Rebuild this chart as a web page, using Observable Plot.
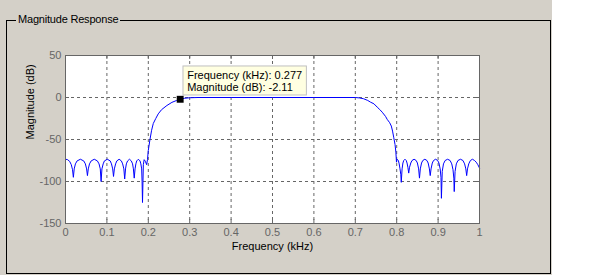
<!DOCTYPE html>
<html>
<head>
<meta charset="utf-8">
<script src="https://cdn.jsdelivr.net/npm/d3@7"></script>
<script src="https://cdn.jsdelivr.net/npm/@observablehq/plot@0.6"></script>
<style>
  html, body { margin: 0; padding: 0; background: #ffffff; }
  #panel { position: relative; width: 552px; height: 275px; background: #D4D0C8; overflow: hidden;
           font-family: "Liberation Sans", Arial, sans-serif; }
  #box { position: absolute; left: 6px; top: 20px; width: 543px; height: 252px; border: 1px solid #000; }
  #title { position: absolute; left: 16px; top: 13px; line-height: 13px; font-size: 11px; letter-spacing: -0.2px;
           padding: 0 2px; background: #D4D0C8; color: #000; }
  #chart { position: absolute; left: 0; top: 0; }
</style>
</head>
<body>
<div id="panel">
  <div id="box"></div>
  <div id="title">Magnitude Response</div>
  <div id="chart"></div>
</div>
<script>
// ---- data ----
const xTicks = [0, 0.1, 0.2, 0.3, 0.4, 0.5, 0.6, 0.7, 0.8, 0.9, 1];
const yTicks = [-150, -100, -50, 0, 50];

const lowStopFreq = [0, 0.005, 0.01, 0.014, 0.017, 0.019,
  0.021, 0.024, 0.028, 0.036, 0.044, 0.048, 0.051, 0.053,
  0.055, 0.058, 0.062, 0.0695, 0.077, 0.081, 0.084, 0.086,
  0.088, 0.091, 0.094, 0.101, 0.108, 0.111, 0.114, 0.116,
  0.118, 0.121, 0.124, 0.1295, 0.135, 0.138, 0.141, 0.143,
  0.145, 0.147, 0.15, 0.1545, 0.159, 0.162, 0.164, 0.166,
  0.168, 0.17, 0.172, 0.176, 0.18, 0.182, 0.184, 0.185, 0.186,
  0.188, 0.19, 0.193, 0.196];
const lowStopMag = [-73.5, -74, -76, -80, -86, -95,
  -85, -79, -75.5, -73.5, -75.5, -79, -85, -93,
  -85, -79, -75.5, -73.5, -75.5, -79, -85, -100,
  -85, -79, -75.5, -73.5, -75.5, -79, -85, -94,
  -85, -79, -75.5, -73.5, -75.5, -79, -85, -97,
  -85, -79, -75.5, -73.5, -75.5, -79, -85, -96,
  -85, -79, -75.5, -73.5, -75.5, -79, -85, -100, -125,
  -80, -74, -76, -80];

const lowEdgeFreq = [0.198, 0.2, 0.204, 0.208, 0.212, 0.218, 0.224, 0.232, 0.245, 0.257, 0.268, 0.277, 0.288, 0.3, 0.32];
const lowEdgeMag = [-74, -63, -50, -39, -31, -25, -19.5, -14.5, -9.5, -5.8, -3.6, -2.11, -0.9, -0.3, 0];

const passFreq = [0.4, 0.5, 0.6, 0.7];
const passMag = [0, 0, 0, 0];

const highEdgeFreq = [0.71, 0.72, 0.73, 0.737, 0.745, 0.753, 0.759, 0.765, 0.773, 0.777, 0.783, 0.787, 0.79, 0.793, 0.796, 0.798, 0.7995];
const highEdgeMag = [-0.5, -1.5, -3.5, -5.6, -7.5, -11.5, -14.3, -17.5, -22.5, -26, -30, -34, -40, -48, -56, -65, -77];

const highStopFreq = [0.801, 0.804, 0.806, 0.808, 0.81, 0.811,
  0.813, 0.815, 0.817, 0.82, 0.823, 0.825, 0.827, 0.829,
  0.831, 0.834, 0.837, 0.842, 0.847, 0.85, 0.853, 0.855,
  0.857, 0.86, 0.863, 0.868, 0.873, 0.876, 0.879, 0.881,
  0.883, 0.886, 0.889, 0.894, 0.899, 0.902, 0.905, 0.907, 0.908,
  0.91, 0.913, 0.917, 0.923, 0.929, 0.933, 0.936, 0.938, 0.939,
  0.941, 0.944, 0.948, 0.954, 0.96, 0.964, 0.967, 0.969,
  0.971, 0.974, 0.978, 0.983, 0.988, 0.992, 0.996, 1];
const highStopMag = [-73.5, -75, -79, -85, -92, -101,
  -85, -78, -75, -73.5, -75, -78, -83, -90,
  -83, -78, -75, -73.5, -75, -78, -85, -96,
  -85, -78, -75, -73.5, -75, -78, -85, -93,
  -85, -78, -75, -73.5, -75, -78, -85, -95, -120,
  -88, -79, -75, -73.5, -75, -79, -86, -96, -112,
  -88, -79, -75, -73.5, -75, -79, -85, -93,
  -85, -79, -75, -73.5, -75, -77, -80, -84];

const tipFreq = [0.277];
const tipMag = [-2.11];

// ---- build tables ----
const zip = (fs, ms) => fs.map((f, i) => ({f, db: ms[i]}));
const response = [
  ...zip(lowStopFreq, lowStopMag),
  ...zip(lowEdgeFreq, lowEdgeMag),
  ...zip(passFreq, passMag),
  ...zip(highEdgeFreq, highEdgeMag),
  ...zip(highStopFreq, highStopMag)
];
const tip = zip(tipFreq, tipMag);

const axisColor = "#666666";
const chart = Plot.plot({
  width: 552,
  height: 275,
  marginLeft: 65,
  marginRight: 73,
  marginTop: 55,
  marginBottom: 52,
  x: {domain: [0, 1]},
  y: {domain: [-150, 50]},
  style: {background: "transparent", fontFamily: "'Liberation Sans', Arial, sans-serif", fontSize: "11px", overflow: "visible"},
  marks: [
    Plot.frame({fill: "white", stroke: "none"}),
    Plot.gridX(xTicks, {stroke: axisColor, strokeOpacity: 1, strokeDasharray: "3,3"}),
    Plot.gridY(yTicks, {stroke: axisColor, strokeOpacity: 1, strokeDasharray: "3,3"}),
    Plot.tickX(xTicks, {x: d => d, stroke: axisColor, insetTop: 164}),
    Plot.tickX(xTicks, {x: d => d, stroke: axisColor, insetBottom: 164}),
    Plot.tickY(yTicks, {y: d => d, stroke: axisColor, insetLeft: 410}),
    Plot.tickY(yTicks, {y: d => d, stroke: axisColor, insetRight: 410}),
    Plot.axisX(xTicks, {tickSize: 0, tickPadding: 5, fill: axisColor, label: null, tickFormat: d3.format("~g")}),
    Plot.axisY(yTicks, {tickSize: 0, tickPadding: 4, fill: axisColor, label: null, tickFormat: d => String(d)}),
    Plot.text(["Frequency (kHz)"], {frameAnchor: "bottom", dy: 26, fill: "black"}),
    Plot.text(["Magnitude (dB)"], {frameAnchor: "left", dx: -35, rotate: -90, fill: "black"}),
    Plot.line(response, {x: "f", y: "db", stroke: "#0000ff", strokeWidth: 1}),
    Plot.frame({stroke: axisColor}),
    Plot.rect(tip, {x1: "f", x2: "f", y1: "db", y2: "db",
      insetLeft: -61.7, insetRight: -61.7, insetTop: -14.5, insetBottom: -14.5,
      dx: 65, dy: -18.3, fill: "#FFFFE1", stroke: "#c0c0c0"}),
    Plot.text(tip, {x: "f", y: "db",
      text: d => `Frequency (kHz): ${d.f}\nMagnitude (dB): ${d.db}`,
      textAnchor: "start", lineAnchor: "middle", lineHeight: 1.15, dx: 7, dy: -18.5, fill: "black"}),
    Plot.dot(tip, {x: "f", y: "db", symbol: "square", r: 3.9, fill: "black", stroke: "none"})
  ]
});
document.getElementById("chart").appendChild(chart);
</script>
</body>
</html>
